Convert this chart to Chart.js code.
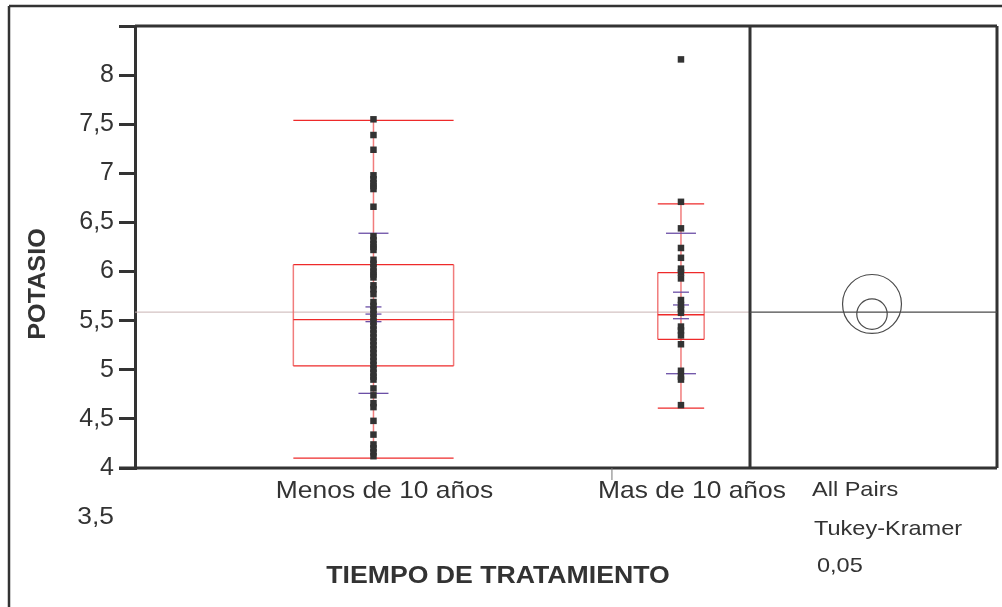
<!DOCTYPE html>
<html>
<head>
<meta charset="utf-8">
<title>Potasio por tiempo de tratamiento</title>
<script src="https://cdn.jsdelivr.net/npm/chart.js@4.4.0/dist/chart.umd.min.js"></script>
<style>
  body { margin: 0; background: #fff; }
  #wrap { width: 1002px; height: 607px; }
</style>
</head>
<body>
<div id="wrap"><canvas id="chart" width="1002" height="607"></canvas></div>
<script>
// groups and their (estimated) sizes - JMP scales group widths by n
const categories = ['Menos de 10 años', 'Mas de 10 años'];
const groupN = [76, 22];

// potassium readings
const menos10 = [7.55, 7.39, 7.24, 6.98, 6.94, 6.90, 6.87, 6.84, 6.66,
  6.36, 6.32, 6.28, 6.25, 6.22,
  6.12, 6.08, 6.04, 6.00, 5.97, 5.94,
  5.86, 5.82, 5.77,
  5.69, 5.65, 5.61, 5.57, 5.53, 5.49, 5.45, 5.41, 5.37, 5.33, 5.29, 5.25,
  5.21, 5.17, 5.13, 5.09, 5.05, 5.01, 4.97, 4.93, 4.90,
  4.81, 4.74, 4.66, 4.62, 4.48, 4.34, 4.24, 4.20, 4.16, 4.12];
const mas10 = [8.16, 6.71, 6.44, 6.24, 6.14, 6.03, 5.99, 5.93, 5.71, 5.66,
  5.62, 5.58, 5.44, 5.40, 5.35, 5.26, 4.99, 4.93, 4.90, 4.64];

// box plot quantiles
const whiskerLow = [4.10, 4.61];
const q1 = [5.04, 5.31];
const median = [5.51, 5.56];
const q3 = [6.07, 5.99];
const whiskerHigh = [7.54, 6.69];

// means, error bars, std dev lines
const means = [5.567, 5.66];
const ciLow = [5.49, 5.52];
const ciHigh = [5.64, 5.79];
const sdLow = [4.76, 4.96];
const sdHigh = [6.39, 6.39];
const grandMean = 5.587;

// Tukey-Kramer comparison circles
const circleCenter = [5.567, 5.67];
const circleRadius = [0.155, 0.30];

const yTicks = [3.5, 4, 4.5, 5, 5.5, 6, 6.5, 7, 7.5, 8, 8.5];

const FONT = "'Liberation Sans', Arial, sans-serif";
const INK = '#333333';

const groupStart = [0, groupN[0]];
const groupCenter = groupN.map((n, i) => groupStart[i] + n / 2);

// the original's text is a bit wider than Arial, so stretch it slightly
function wideText(ctx, text, x, y, sx) {
    ctx.save();
    ctx.translate(x, y);
    ctx.scale(sx, 1);
    ctx.fillText(text, 0, 0);
    ctx.restore();
}

const onewayPlugin = {
    id: 'oneway',
    beforeDatasetsDraw(chart) {
        const { ctx, chartArea: a, scales: { x, y } } = chart;
        ctx.save();
        const line = (x1, y1, x2, y2) => {
            ctx.beginPath(); ctx.moveTo(x1, y1); ctx.lineTo(x2, y2); ctx.stroke();
        };

        // grand mean
        ctx.strokeStyle = '#c9b3b3';
        ctx.lineWidth = 1;
        line(a.left, y.getPixelForValue(grandMean), a.right, y.getPixelForValue(grandMean));

        categories.forEach((c, i) => {
            const cx = x.getPixelForValue(groupCenter[i]);
            const gw = x.getPixelForValue(groupN[i]) - x.getPixelForValue(0);
            const half = gw * 0.168;
            const yl = y.getPixelForValue(whiskerLow[i]);
            const yh = y.getPixelForValue(whiskerHigh[i]);
            const y1 = y.getPixelForValue(q1[i]);
            const y3 = y.getPixelForValue(q3[i]);
            const ym = y.getPixelForValue(median[i]);

            ctx.strokeStyle = 'rgba(240,110,110,0.9)';
            ctx.lineWidth = 1.5;
            line(cx, yl, cx, yh);
            line(cx - half, y3, cx - half, y1);
            line(cx + half, y3, cx + half, y1);

            ctx.strokeStyle = '#ee2a2a';
            ctx.lineWidth = 1.3;
            line(cx - half, yh, cx + half, yh);
            line(cx - half, yl, cx + half, yl);
            line(cx - half, y3, cx + half, y3);
            line(cx - half, y1, cx + half, y1);
            line(cx - half, ym, cx + half, ym);

            // mean and error bars, std dev lines
            ctx.strokeStyle = '#6b4fa6';
            ctx.lineWidth = 1.3;
            [ciLow[i], means[i], ciHigh[i]].forEach(v => {
                const yy = y.getPixelForValue(v);
                line(cx - 8, yy, cx + 8, yy);
            });
            [sdLow[i], sdHigh[i]].forEach(v => {
                const yy = y.getPixelForValue(v);
                line(cx - 15, yy, cx + 15, yy);
            });
        });
        ctx.restore();
    },
    afterDatasetsDraw(chart) {
        const { ctx, chartArea: a, scales: { x, y } } = chart;
        const panelRight = 997;
        ctx.save();
        const line = (x1, y1, x2, y2) => {
            ctx.beginPath(); ctx.moveTo(x1, y1); ctx.lineTo(x2, y2); ctx.stroke();
        };

        // outer frame
        ctx.strokeStyle = INK;
        ctx.lineWidth = 2.5;
        line(9, 6, 1010, 6);
        line(9, 6, 9, 620);

        // plot frame
        ctx.lineWidth = 3;
        line(a.left, a.top, panelRight, a.top);
        line(a.left - 16, a.bottom, panelRight, a.bottom);
        line(a.right, a.top, a.right, a.bottom);
        line(panelRight, a.top, panelRight, a.bottom);

        // group separator tick
        ctx.strokeStyle = '#777';
        ctx.lineWidth = 1;
        const sep = x.getPixelForValue(groupStart[1]);
        line(sep, a.bottom, sep, a.bottom + 12);

        // comparison circles panel
        const pcx = (a.right + panelRight) / 2 - 1.5;
        ctx.strokeStyle = '#4a4a4a';
        ctx.lineWidth = 1.2;
        const gm = y.getPixelForValue(grandMean);
        line(a.right, gm, panelRight, gm);
        circleCenter.forEach((c, i) => {
            const cy = y.getPixelForValue(c);
            const r = Math.abs(y.getPixelForValue(c + circleRadius[i]) - cy);
            ctx.beginPath();
            ctx.arc(pcx, cy, r, 0, Math.PI * 2);
            ctx.stroke();
        });

        // texts
        ctx.fillStyle = INK;
        ctx.textBaseline = 'middle';
        ctx.font = '24px ' + FONT;
        ctx.textAlign = 'center';
        categories.forEach((c, i) => {
            wideText(ctx, c, x.getPixelForValue(groupCenter[i]) + 11, 491, 1.1);
        });
        ctx.textAlign = 'right';
        wideText(ctx, '3,5', a.left - 21, y.getPixelForValue(3.5), 1.1);

        ctx.textAlign = 'left';
        ctx.font = '21px ' + FONT;
        wideText(ctx, 'All Pairs', 812, 490, 1.12);
        wideText(ctx, 'Tukey-Kramer', 814, 529, 1.12);
        wideText(ctx, '0,05', 817, 566, 1.12);

        ctx.font = 'bold 24px ' + FONT;
        ctx.textAlign = 'center';
        wideText(ctx, 'TIEMPO DE TRATAMIENTO', 498, 576, 1.11);
        ctx.translate(38, 284);
        ctx.rotate(-Math.PI / 2);
        wideText(ctx, 'POTASIO', 0, 0, 1.05);
        ctx.restore();
    }
};

new Chart(document.getElementById('chart'), {
    type: 'scatter',
    data: {
        datasets: [
            {
                label: categories[0],
                data: menos10.map(v => ({ x: groupCenter[0], y: v })),
                backgroundColor: INK,
                borderWidth: 0,
                pointStyle: 'rect',
                pointRadius: 4.6
            },
            {
                label: categories[1],
                data: mas10.map(v => ({ x: groupCenter[1], y: v })),
                backgroundColor: INK,
                borderWidth: 0,
                pointStyle: 'rect',
                pointRadius: 4.6
            }
        ]
    },
    options: {
        responsive: false,
        animation: false,
        layout: { padding: { top: 26, bottom: 139, right: 252, left: 0 } },
        plugins: { legend: { display: false }, tooltip: { enabled: false } },
        scales: {
            x: {
                type: 'linear',
                display: false,
                min: 0,
                max: groupN[0] + groupN[1]
            },
            y: {
                min: 4,
                max: 8.5,
                afterFit(scale) { scale.width = 135; },
                afterBuildTicks(scale) {
                    scale.ticks = yTicks.filter(v => v >= 4).map(v => ({ value: v }));
                },
                ticks: {
                    color: INK,
                    padding: 5,
                    font: { family: FONT, size: 25 },
                    callback: v => (v === 8.5 ? '' : String(v).replace('.', ','))
                },
                grid: {
                    drawOnChartArea: false,
                    drawTicks: true,
                    tickLength: 16,
                    color: INK,
                    lineWidth: 3
                },
                border: { display: true, color: INK, width: 3 }
            }
        }
    },
    plugins: [onewayPlugin]
});
</script>
</body>
</html>
